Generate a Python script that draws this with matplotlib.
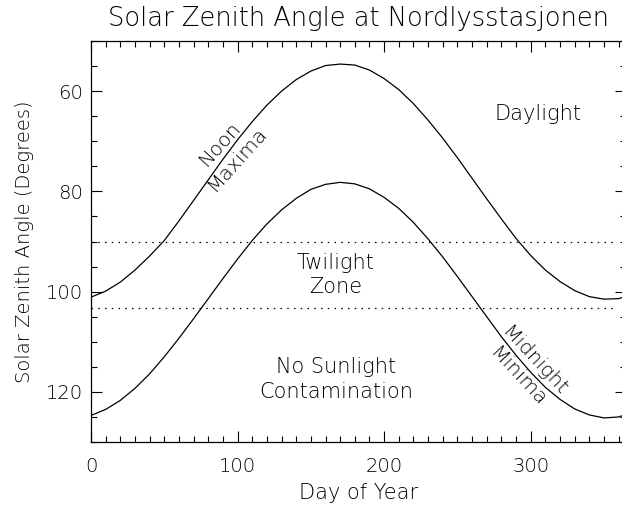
import numpy as np
import matplotlib
matplotlib.use("Agg")
import matplotlib.pyplot as plt
from matplotlib.ticker import MultipleLocator

plt.rcParams['font.family'] = ['DejaVu Sans']
plt.rcParams['font.weight'] = 'light'
plt.rcParams['axes.titleweight'] = 'light'
plt.rcParams['axes.labelweight'] = 'light'

# values (day of year, zenith angle in degrees)
days = [0, 10, 20, 30, 40, 50, 60, 70, 80, 90, 100, 110, 120, 130, 140, 150, 160, 170, 180,
        190, 200, 210, 220, 230, 240, 250, 260, 270, 280, 290, 300, 310, 320, 330, 340, 350, 360, 365]
noon_za = [101.1, 99.9, 98.1, 95.7, 92.9, 89.8, 85.9, 81.8, 77.7, 73.6, 69.7, 66.1, 62.8, 60.0,
           57.7, 56.0, 54.9, 54.6, 54.8, 55.8, 57.5, 59.7, 62.5, 65.8, 69.4, 73.3, 77.4, 81.5,
           85.5, 89.4, 92.8, 95.7, 98.0, 99.8, 101.0, 101.5, 101.4, 100.9]
midnight_za = [124.7, 123.5, 121.7, 119.3, 116.4, 113.0, 109.3, 105.4, 101.4, 97.4, 93.5, 89.8,
               86.5, 83.7, 81.4, 79.6, 78.6, 78.2, 78.5, 79.5, 81.2, 83.4, 86.2, 89.5, 93.1, 97.0,
               101.0, 105.0, 109.0, 112.7, 116.1, 119.1, 121.5, 123.4, 124.6, 125.2, 125.0, 124.5]
twilight_limits = [90.0, 103.3]
limit_end_day = 356

fig = plt.figure(figsize=(6.22, 5.07), dpi=100)
ax = fig.add_axes([91/622, 1-442/507, 535/622, 401/507])

ax.plot(days, noon_za, color='k', lw=0.9)
ax.plot(days, midnight_za, color='k', lw=0.9)
for lim in twilight_limits:
    ax.plot([0, limit_end_day], [lim, lim], color='k', lw=0.9, linestyle=(0, (1.2, 4.2)))

ax.set_xlim(0, 365)
ax.set_ylim(130, 50)
ax.xaxis.set_major_locator(MultipleLocator(100))
ax.xaxis.set_minor_locator(MultipleLocator(10))
ax.yaxis.set_major_locator(MultipleLocator(20))
ax.yaxis.set_minor_locator(MultipleLocator(5))
ax.tick_params(which='both', direction='in', top=True, right=True, width=0.8, colors='k')
ax.tick_params(which='major', length=8)
ax.tick_params(which='minor', length=4.3)
ax.tick_params(axis='x', which='major', pad=11, labelsize=14)
ax.tick_params(axis='y', which='major', pad=6, labelsize=14)
for s in ax.spines.values():
    s.set_linewidth(0.9)

ax.set_title("Solar Zenith Angle at Nordlysstasjonen", fontsize=18.5, pad=11)
ax.set_xlabel("Day of Year", fontsize=15, labelpad=5)
ax.set_ylabel("Solar Zenith Angle (Degrees)", fontsize=14, labelpad=8)

ax.text(305, 64.6, "Daylight", fontsize=15, ha='center', va='center')
ax.text(167, 96.7, "Twilight\nZone", fontsize=15, ha='center', va='center',
        multialignment='center', linespacing=1.3)
ax.text(167, 117.5, "No Sunlight\nContamination", fontsize=15, ha='center', va='center',
        multialignment='center', linespacing=1.3)
ax.text(94, 72, "Noon\nMaxima", fontsize=14.5, ha='center', va='center',
        multialignment='center', rotation=48, linespacing=1.25, rotation_mode='anchor')
ax.text(297, 115.5, "Midnight\nMinima", fontsize=14.5, ha='center', va='center',
        multialignment='center', rotation=-47, linespacing=1.25, rotation_mode='anchor')

fig.savefig("out.png", dpi=100)
